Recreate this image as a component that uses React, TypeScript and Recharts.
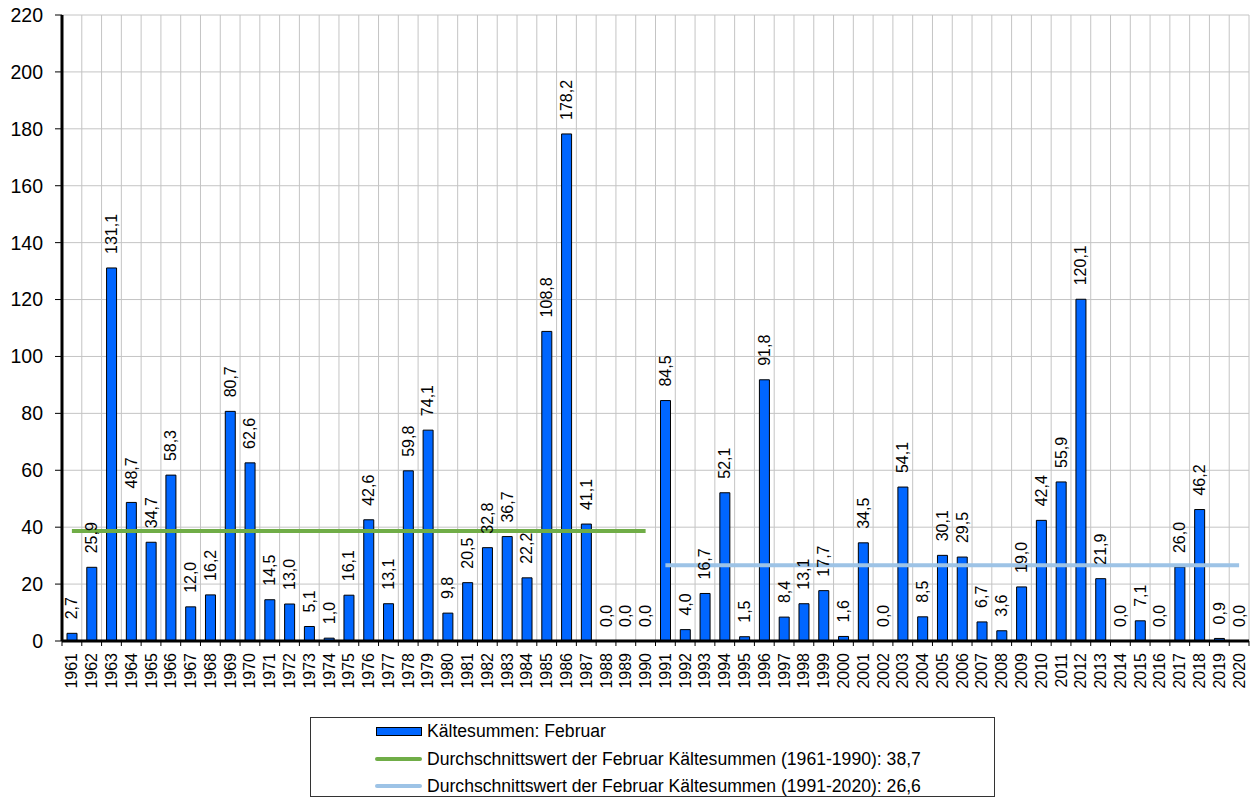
// =====================================================
// KÄLTESUMMEN FEBRUAR BAR CHART
// =====================================================

import React from 'react';
import {
  ComposedChart,
  Bar,
  Line,
  XAxis,
  YAxis,
  CartesianGrid,
  LabelList,
  Legend,
} from 'recharts';

const years = [
  1961, 1962, 1963, 1964, 1965, 1966, 1967, 1968, 1969, 1970,
  1971, 1972, 1973, 1974, 1975, 1976, 1977, 1978, 1979, 1980,
  1981, 1982, 1983, 1984, 1985, 1986, 1987, 1988, 1989, 1990,
  1991, 1992, 1993, 1994, 1995, 1996, 1997, 1998, 1999, 2000,
  2001, 2002, 2003, 2004, 2005, 2006, 2007, 2008, 2009, 2010,
  2011, 2012, 2013, 2014, 2015, 2016, 2017, 2018, 2019, 2020,
];

const kaeltesummen = [
  2.7, 25.9, 131.1, 48.7, 34.7, 58.3, 12.0, 16.2, 80.7, 62.6,
  14.5, 13.0, 5.1, 1.0, 16.1, 42.6, 13.1, 59.8, 74.1, 9.8,
  20.5, 32.8, 36.7, 22.2, 108.8, 178.2, 41.1, 0.0, 0.0, 0.0,
  84.5, 4.0, 16.7, 52.1, 1.5, 91.8, 8.4, 13.1, 17.7, 1.6,
  34.5, 0.0, 54.1, 8.5, 30.1, 29.5, 6.7, 3.6, 19.0, 42.4,
  55.9, 120.1, 21.9, 0.0, 7.1, 0.0, 26.0, 46.2, 0.9, 0.0,
];

const yTicks = [0, 20, 40, 60, 80, 100, 120, 140, 160, 180, 200, 220];

const avgOld = 38.7; // 1961-1990
const avgNew = 26.6; // 1991-2020

const legendLabels = [
  'Kältesummen: Februar',
  'Durchschnittswert der Februar Kältesummen (1961-1990): 38,7',
  'Durchschnittswert der Februar Kältesummen (1991-2020): 26,6',
];

const BAR_COLOR = '#0066FF';
const GREEN = '#70AD47';
const LIGHT_BLUE = '#9DC3E6';
const FONT = '"Liberation Sans", Arial, sans-serif';

const W = 1257;
const H = 798;
const M = { top: 15, right: 8, bottom: 100, left: 0 };
const Y_W = 62;
const X_H = 57;
const BAND = (W - M.left - M.right - Y_W) / years.length;

const data = years.map((year, i) => ({
  year: String(year),
  value: kaeltesummen[i],
  avgOld: year <= 1990 ? avgOld : null,
  avgNew: year >= 1991 ? avgNew : null,
}));

const fmt = (v: number) => v.toFixed(1).replace('.', ',');

// labels hang off an invisible line so that the 0,0 years get one too
const BarValueLabel = (props: any) => {
  const { x, y, value } = props;
  const cx = x;
  const cy = y - 14;
  return (
    <text
      x={cx}
      y={cy}
      transform={`rotate(-90, ${cx}, ${cy})`}
      textAnchor="start"
      dominantBaseline="central"
      fontSize={16}
      fontFamily={FONT}
      fill="#000"
    >
      {fmt(Number(value))}
    </text>
  );
};

const YearTick = (props: any) => {
  const { x, y, payload, index } = props;
  const left = x - BAND / 2;
  return (
    <g>
      <line x1={left} y1={y} x2={left} y2={y + 5} stroke="#000" strokeWidth={1} />
      {index === years.length - 1 && (
        <line x1={x + BAND / 2} y1={y} x2={x + BAND / 2} y2={y + 5} stroke="#000" strokeWidth={1} />
      )}
      <text
        x={x}
        y={y + 12}
        transform={`rotate(-90, ${x}, ${y + 12})`}
        textAnchor="end"
        dominantBaseline="central"
        fontSize={16}
        fontFamily={FONT}
        fill="#000"
      >
        {payload.value}
      </text>
    </g>
  );
};

const LegendBox = () => (
  <div
    style={{
      position: 'relative',
      width: 685,
      height: 80,
      border: '1px solid #333',
      boxSizing: 'border-box',
      background: '#fff',
      fontFamily: FONT,
      fontSize: 17.6,
      color: '#000',
    }}
  >
    {legendLabels.map((label, i) => {
      const cy = 13 + i * 27.5;
      return (
        <div key={label}>
          {i === 0 ? (
            <div
              style={{
                position: 'absolute',
                left: 65,
                top: cy - 4,
                width: 44,
                height: 7,
                background: BAR_COLOR,
                border: '1px solid #000',
              }}
            />
          ) : (
            <div
              style={{
                position: 'absolute',
                left: 64,
                top: cy - 2,
                width: 47,
                height: 4,
                borderRadius: 2,
                background: i === 1 ? GREEN : LIGHT_BLUE,
              }}
            />
          )}
          <div
            style={{
              position: 'absolute',
              left: 116,
              top: cy - 11,
              lineHeight: '22px',
              whiteSpace: 'nowrap',
            }}
          >
            {label}
          </div>
        </div>
      );
    })}
  </div>
);

const verticalGrid = ({ offset }: any) =>
  years.map((_, i) => offset.left + i * (offset.width / years.length)).concat(offset.left + offset.width);

const App: React.FC = () => {
  return (
    <div style={{ position: 'absolute', left: 0, top: 0, width: W, height: H, background: '#fff' }}>
      <ComposedChart width={W} height={H} data={data} margin={M} barSize={10}>
        <CartesianGrid
          stroke="#c4c4c4"
          strokeWidth={1}
          verticalCoordinatesGenerator={verticalGrid}
        />
        <XAxis
          dataKey="year"
          interval={0}
          height={X_H}
          tickLine={false}
          tickSize={0}
          tickMargin={0}
          axisLine={{ stroke: '#000', strokeWidth: 3 }}
          tick={<YearTick />}
        />
        <XAxis
          xAxisId="top"
          dataKey="year"
          orientation="top"
          height={0}
          tick={false}
          tickLine={false}
          axisLine={{ stroke: '#000', strokeWidth: 3 }}
        />
        <YAxis
          width={Y_W}
          domain={[0, 220]}
          ticks={yTicks}
          interval={0}
          tickSize={7}
          tickMargin={12}
          axisLine={{ stroke: '#000', strokeWidth: 3 }}
          tickLine={{ stroke: '#000' }}
          tick={{ fontSize: 19.5, fill: '#000', fontFamily: FONT }}
        />
        <YAxis
          yAxisId="right"
          orientation="right"
          width={0}
          tick={false}
          tickLine={false}
          axisLine={{ stroke: '#000', strokeWidth: 3 }}
        />
        <Bar
          dataKey="value"
          fill={BAR_COLOR}
          stroke="#000"
          strokeWidth={1}
          isAnimationActive={false}
        />
        <Line
          dataKey="value"
          stroke="none"
          dot={false}
          activeDot={false}
          legendType="none"
          isAnimationActive={false}
        >
          <LabelList dataKey="value" content={<BarValueLabel />} />
        </Line>
        <Line
          dataKey="avgOld"
          stroke={GREEN}
          strokeWidth={4}
          dot={false}
          activeDot={false}
          isAnimationActive={false}
        />
        <Line
          dataKey="avgNew"
          stroke={LIGHT_BLUE}
          strokeWidth={4}
          dot={false}
          activeDot={false}
          isAnimationActive={false}
        />
        <Legend
          verticalAlign="middle"
          align="center"
          layout="horizontal"
          wrapperStyle={{ top: 717, left: 310, width: 685, height: 80 }}
          content={<LegendBox />}
        />
      </ComposedChart>
    </div>
  );
};

export default App;
